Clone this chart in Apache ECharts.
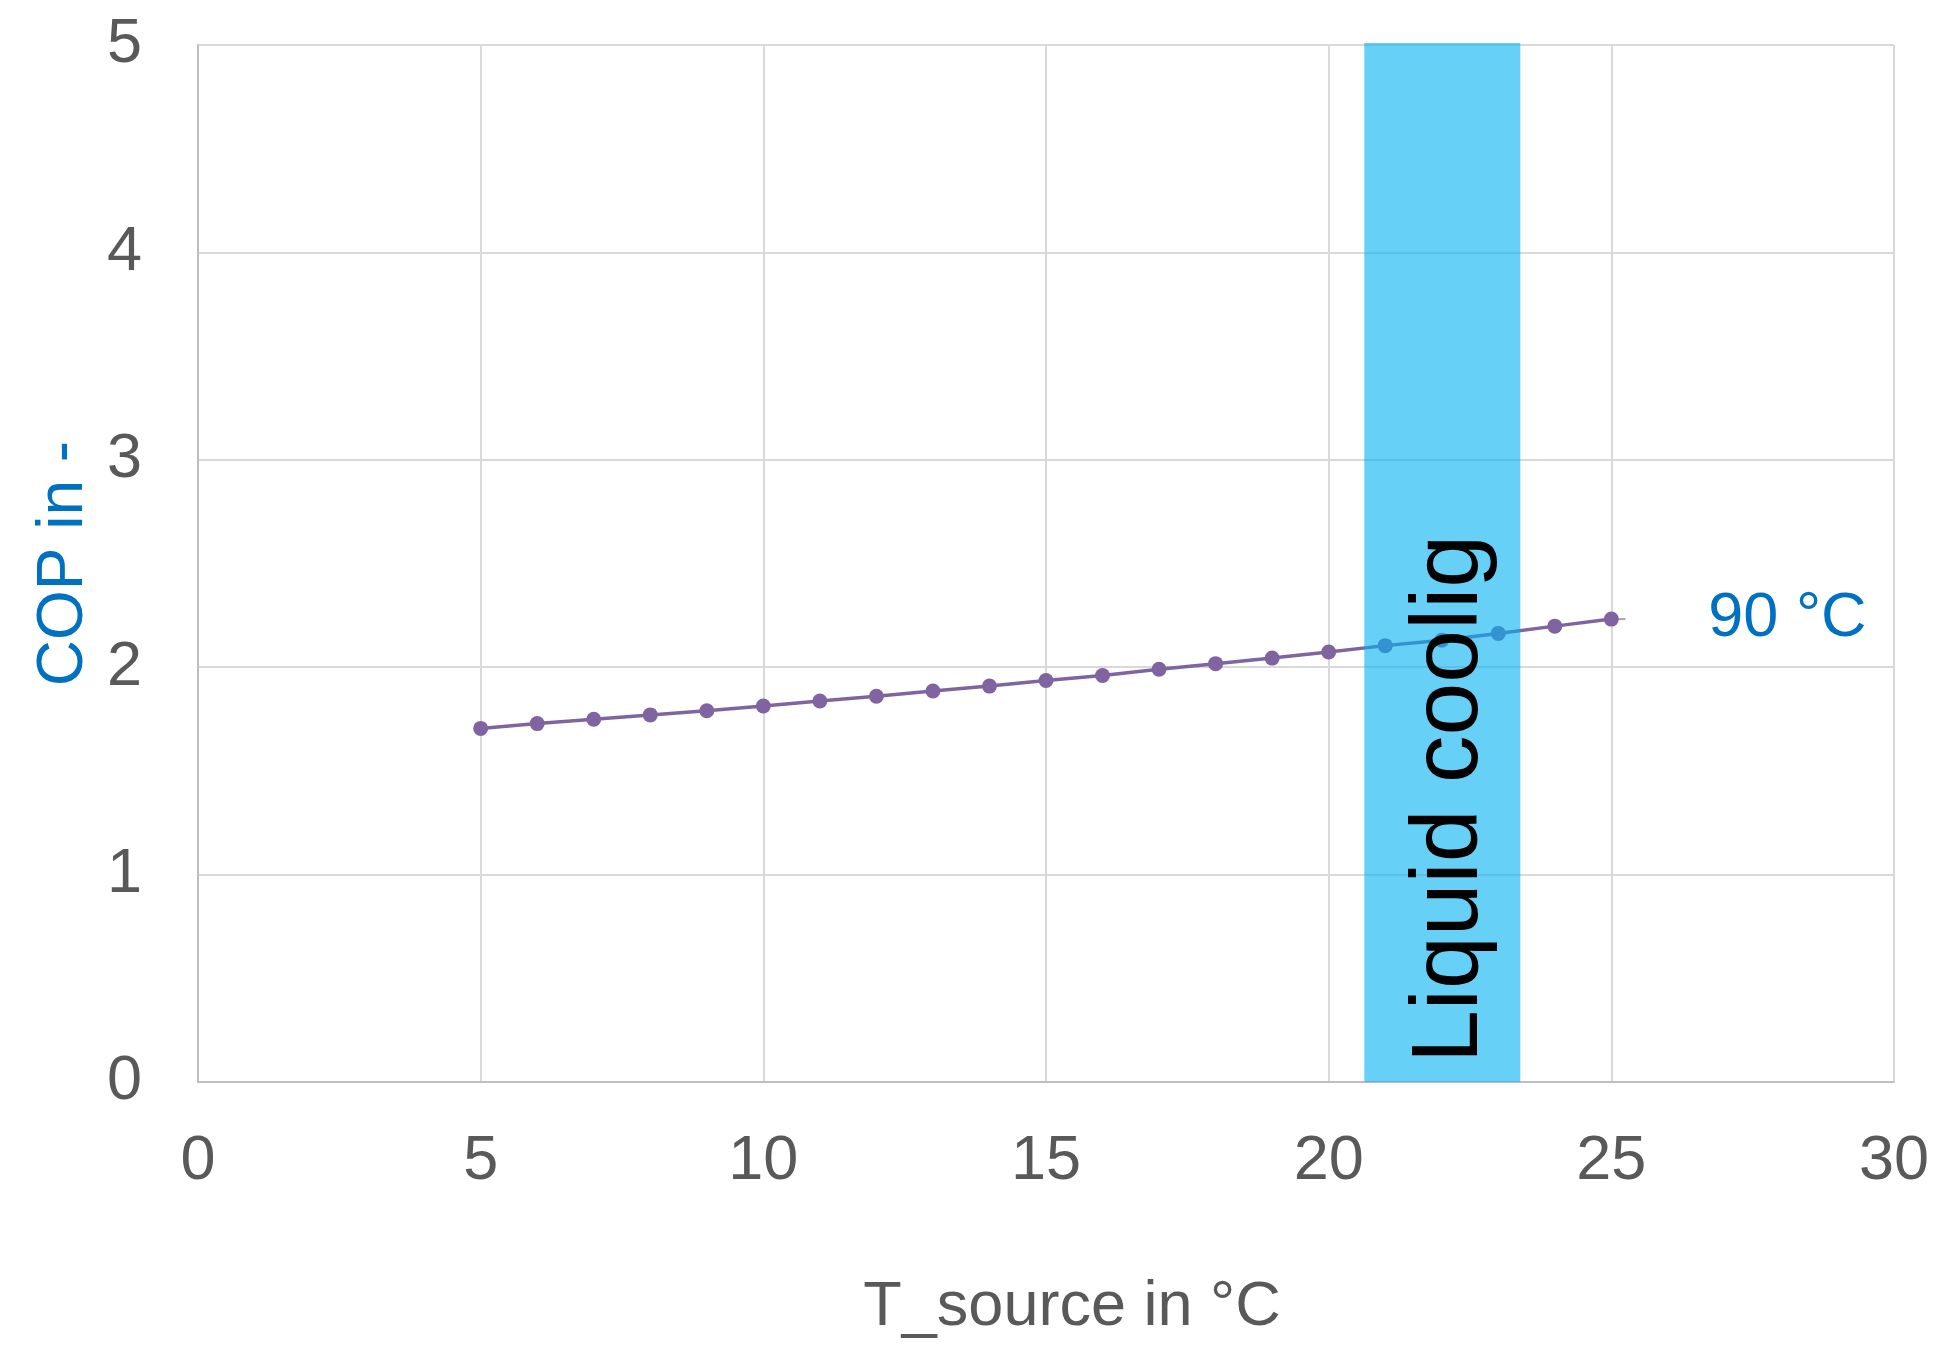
<!DOCTYPE html>
<html>
<head>
<meta charset="utf-8">
<script src="https://cdn.jsdelivr.net/npm/echarts@6/dist/echarts.min.js"></script>
<style>
html,body{margin:0;padding:0;background:#fff;}
#chart{width:1941px;height:1345px;}
</style>
</head>
<body>
<div id="chart"></div>
<script>
// Data
var tSource = [5, 6, 7, 8, 9, 10, 11, 12, 13, 14, 15, 16, 17, 18, 19, 20, 21, 22, 23, 24, 25];
var cop90 = [1.705, 1.728, 1.749, 1.770, 1.790, 1.813, 1.837, 1.860, 1.885, 1.909, 1.936, 1.960, 1.990, 2.017, 2.044, 2.073, 2.104, 2.130, 2.163, 2.198, 2.232];
var seriesName = '90 °C';
var bandRange = [20.63, 23.39];
var bandLabel = 'Liquid coolig';
var leaderEndX = 25.25;
var xTicks = [0, 5, 10, 15, 20, 25, 30];
var yTicks = [0, 1, 2, 3, 4, 5];

var font = '"Liberation Sans", Arial, sans-serif';
var lineData = tSource.map(function (t, i) { return [t, cop90[i]]; });
var lastPt = lineData[lineData.length - 1];

var chart = echarts.init(document.getElementById('chart'));
chart.setOption({
  animation: false,
  backgroundColor: '#ffffff',
  grid: { left: 198, right: 47, top: 45, bottom: 263, containLabel: false },
  xAxis: {
    type: 'value',
    min: xTicks[0], max: xTicks[xTicks.length - 1], interval: 5,
    name: 'T_source in °C',
    nameLocation: 'middle',
    nameGap: 194,
    nameTextStyle: { fontFamily: font, fontSize: 63, color: '#595959', padding: [0, 0, 0, 52] },
    axisLine: { show: true, lineStyle: { color: '#bfbfbf', width: 2 } },
    axisTick: { show: false },
    axisLabel: { fontFamily: font, fontSize: 63, color: '#595959', margin: 48 },
    splitLine: { show: true, lineStyle: { color: '#d9d9d9', width: 2 } }
  },
  yAxis: {
    type: 'value',
    min: yTicks[0], max: yTicks[yTicks.length - 1], interval: 1,
    name: 'COP in -',
    nameLocation: 'middle',
    nameRotate: 90,
    nameGap: 101,
    nameTextStyle: { fontFamily: font, fontSize: 64, color: '#0070C0' },
    axisLine: { show: true, lineStyle: { color: '#bfbfbf', width: 2 } },
    axisTick: { show: false },
    axisLabel: { fontFamily: font, fontSize: 63, color: '#595959', margin: 56, padding: [8, 0, 0, 0] },
    splitLine: { show: true, lineStyle: { color: '#d9d9d9', width: 2 } }
  },
  series: [
    {
      name: seriesName,
      type: 'line',
      data: lineData,
      z: 3,
      symbol: 'circle',
      symbolSize: 15,
      itemStyle: { color: '#8064A2' },
      lineStyle: { color: '#8064A2', width: 3.5 },
      endLabel: {
        show: true,
        formatter: seriesName,
        distance: 97,
        fontFamily: font,
        fontSize: 63,
        color: '#0070C0'
      }
    },
    {
      name: 'leader',
      type: 'line',
      data: [lastPt, [leaderEndX, lastPt[1]]],
      z: 2,
      symbol: 'none',
      lineStyle: { color: '#a6a6a6', width: 2 }
    },
    {
      name: 'band',
      type: 'custom',
      z: 10,
      data: [[bandRange[0], bandRange[1], yTicks[0], yTicks[yTicks.length - 1]]],
      encode: { x: [0, 1], y: [2, 3] },
      renderItem: function (params, api) {
        var p0 = api.coord([api.value(0), api.value(3)]);
        var p1 = api.coord([api.value(1), api.value(2)]);
        var cx = (p0[0] + p1[0]) / 2;
        return {
          type: 'group',
          children: [
            {
              type: 'rect',
              shape: { x: p0[0], y: p0[1] - 2, width: p1[0] - p0[0], height: p1[1] - p0[1] + 2 },
              style: { fill: 'rgba(0,176,240,0.6)' }
            },
            {
              type: 'text',
              x: cx + 8,
              y: p1[1] - 19,
              rotation: Math.PI / 2,
              style: {
                text: bandLabel,
                font: '95px ' + font,
                fill: '#000000',
                align: 'left',
                verticalAlign: 'middle'
              }
            }
          ]
        };
      }
    }
  ]
});
</script>
</body>
</html>
